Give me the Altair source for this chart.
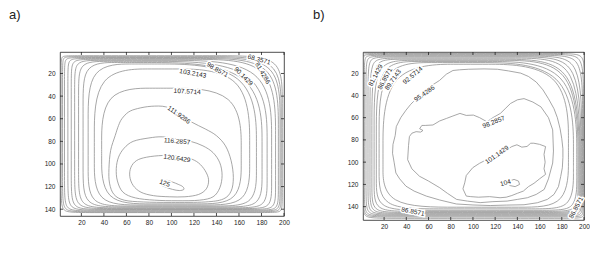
import altair as alt
import pandas as pd

FONT = "Liberation Sans"
INK = "#222222"
LINE = "#8a8a8a"

XTICKS = [20, 40, 60, 80, 100, 120, 140, 160, 180, 200]
YTICKS = [20, 40, 60, 80, 100, 120, 140]

# ---------------- panel a ----------------
A_YDOM = [1, 146]
# outer contour levels (rounded-rectangle shaped)
A_LEVELS = [64.0, 68.3571, 72.7143, 77.0714, 81.4286, 85.7857, 90.1429, 94.5, 98.8571, 103.2143, 107.5714]
A_L = [2.0, 3.3, 5.0, 8.0, 11.0, 14.0, 17.5, 21.5, 26.0, 31.5, 38.0]
A_R = [198.5, 197.5, 196.5, 195.0, 192.5, 189.0, 185.0, 180.5, 175.5, 169.5, 162.0]
A_T = [4.3, 5.1, 5.9, 6.7, 7.5, 8.4, 9.3, 10.3, 11.6, 16.0, 33.0]
A_B = [143.0, 142.3, 141.6, 140.9, 140.2, 139.5, 138.8, 138.0, 137.2, 136.3, 135.3]
A_TLX = [7, 8, 10, 12, 15, 19, 24, 31, 43, 55, 50]
A_TLY = [7, 8, 10, 12, 15, 19, 24, 34, 51, 65, 55]
A_TRX = [50, 60, 65, 68, 71, 94, 110, 115, 100, 75, 70]
A_TRY = [37, 46, 54, 63, 71, 75, 78, 80, 80, 75, 60]
A_BRX = [10, 12, 14, 15, 17, 20, 24, 29, 34, 40, 40]
A_BRY = [10, 12, 14, 15, 17, 20, 24, 29, 34, 40, 40]
A_BLX = [14, 15, 17, 19, 20, 24, 27, 31, 34, 41, 45]
A_BLY = [17, 19, 20, 22, 24, 26, 27, 31, 34, 41, 45]

# inner contours traced point by point
A_111_X = [56, 62, 70, 82, 95, 106, 118, 130, 140, 148, 153, 155, 153, 146, 130, 100, 75, 58, 49, 45, 44.5, 46, 50, 53]
A_111_Y = [60, 54, 51, 49, 49.5, 55, 63, 69, 75, 84, 97, 112, 124, 131, 133.6, 134, 133.6, 132, 127, 117, 104, 88, 75, 66]
A_116_X = [80, 92, 105, 117, 128, 137, 143, 145, 143, 137, 125, 105, 85, 68, 57, 52, 51, 53, 58, 66]
A_116_Y = [77, 76, 78, 80, 84, 90, 99, 110, 121, 129, 132, 132.5, 132, 130, 125, 115, 104, 94, 86, 80]
A_120_X = [78, 92, 105, 116, 124, 130, 133, 131, 124, 112, 98, 84, 73, 66, 63, 64, 69]
A_120_Y = [94, 92.5, 93, 95, 99, 106, 114, 122, 127, 129, 129, 128, 125, 119, 111, 103, 97]
A_125_X = [91, 96, 101, 106, 110, 111, 107, 101, 95, 91]
A_125_Y = [116, 114.5, 116, 118, 120, 122.5, 123.5, 122.5, 120.5, 118.5]

A_LAB_T = ["68.3571", "81.4286", "90.1429", "98.8571", "103.2143", "107.5714",
           "111.9286", "116.2857", "120.6429", "125"]
A_LAB_X = [178, 181, 164, 140.8, 119, 114, 106.7, 105, 105, 94]
A_LAB_Y = [7.8, 19.7, 22.6, 16.7, 20, 36, 56.6, 80, 95, 117]
A_LAB_A = [15, 60, 45, 30, 10, 3, 35, 5, 8, 20]

# ---------------- panel b ----------------
B_YDOM = [1, 152]
B_LEVELS = [64.0, 66.8571, 69.7143, 72.5714, 75.4286, 78.2857, 81.1429, 84.0, 86.8571, 89.7143, 92.5714]
B_L = [0.3, 1.2, 2.2, 3.7, 5.5, 7.3, 9.0, 11.0, 13.0, 15.5, 19.0]
B_R = [200.5, 199.5, 198.7, 197.9, 197.1, 196.3, 195.5, 194.6, 193.5, 190.5, 186.0]
B_T = [2.3, 3.1, 3.9, 4.7, 5.5, 6.5, 7.5, 8.5, 9.5, 10.5, 12.0]
B_B = [150.5, 149.3, 148.4, 147.6, 146.8, 146.0, 145.2, 144.3, 143.3, 142.0, 140.5]
B_TLX = [5, 5, 7, 9, 10, 14, 17, 31, 37, 51, 75]
B_TLY = [5, 9, 14, 20, 31, 43, 60, 60, 68, 68, 85]
B_TRX = [17, 20, 26, 34, 43, 51, 65, 68, 85, 94, 85]
B_TRY = [20, 34, 51, 75, 90, 100, 100, 100, 95, 90, 80]
B_BRX = [10, 10, 12, 14, 15, 17, 19, 20, 24, 31, 43]
B_BRY = [10, 10, 12, 14, 15, 17, 20, 24, 31, 37, 48]
B_BLX = [14, 14, 15, 17, 19, 20, 24, 31, 43, 51, 68]
B_BLY = [20, 17, 17, 17, 17, 19, 20, 22, 26, 34, 40]

B_95_X = [82, 76, 70, 63, 56.4, 50, 44, 39.7, 35, 31, 30, 28, 27.6, 29, 30.6, 34, 39.7, 47, 58, 70, 85,
          100, 115.6, 130, 146, 158, 167, 173, 177, 179, 180.5, 181, 181, 180, 178.5, 176, 173, 168,
          163, 157, 150, 143, 132, 122, 110, 96, 88]
B_95_Y = [17.6, 21, 26.5, 31, 38.4, 42, 48, 53.3, 60, 68, 76, 84, 92, 100, 109.7, 115, 121.6, 126, 130.5,
          134, 137.6, 138.5, 139, 138.6, 138.3, 136.5, 133.5, 129, 122, 113, 105, 96, 88, 79, 70, 60,
          52, 43, 35, 28, 23, 20, 18, 16.5, 16.2, 16.5, 17]
B_98_X = [42.8, 42, 41.2, 45, 51.9, 60, 70.1, 77, 85.3, 95, 106.5, 118, 130.8, 140, 149, 157, 164.2, 168,
          171.8, 172.5, 171.8, 168, 161.2, 154, 146, 140, 133.8, 129, 124.7, 118, 112.6, 106, 100.4,
          94, 88.3, 82, 76.2, 70, 64, 57, 54, 52, 55, 53, 48.8, 45]
B_98_Y = [77, 85, 97.8, 106, 112.7, 117, 123, 128, 133.5, 135, 136.4, 135.5, 135, 133.5, 132, 129, 124.5,
          115, 100.8, 90, 71, 60, 50.3, 46, 42.9, 44, 47.3, 52, 56.2, 60, 63.7, 60, 57.7, 58, 56.2, 58.5,
          60.7, 63, 66.6, 67, 67, 70, 71.5, 73, 72.6, 74]
B_101_X = [92.6, 94, 99.8, 106, 112.3, 121.7, 130.5, 135, 139.6, 144, 148.7, 152, 154.8, 160, 165.4, 164,
           165, 164, 165.4, 160, 155, 150, 145.4, 140, 135, 130, 124.4, 115, 105, 98, 94, 91]
B_101_Y = [118.6, 112, 105, 101, 97.8, 93.4, 88.9, 86, 84.4, 86.5, 85.9, 83, 83, 84, 86, 93, 100, 106,
           111, 115, 119, 122, 126, 128, 130, 131.5, 132, 131, 131.5, 131, 130.5, 124]
B_104_X = [133, 137, 141, 142, 138, 133]
B_104_Y = [117, 115.5, 117, 120, 122, 121]

B_LAB_T = ["81.1429", "86.8571", "89.7143", "92.5714", "95.4286", "98.2857", "101.1429", "104",
           "86.8571", "86.8571"]
B_LAB_X = [12.4, 20.9, 28, 45.8, 56.4, 118.7, 121.7, 129.3, 46, 193]
B_LAB_Y = [22, 25, 26, 22, 38.4, 64, 93.4, 118.6, 144.5, 140.9]
B_LAB_A = [298, 298, 305, 320, 325, 338, 325, 345, 12, 298]


def box_frame(prefix, L, R, T, B, TLX, TLY, TRX, TRY, BRX, BRY, BLX, BLY):
    rows = []
    for k in range(len(L)):
        pts = [(L[k], T[k]), (L[k] + TLX[k], T[k]), (R[k] - TRX[k], T[k]), (R[k], T[k]),
               (R[k], T[k] + TRY[k]), (R[k], B[k] - BRY[k]), (R[k], B[k]),
               (R[k] - BRX[k], B[k]), (L[k] + BLX[k], B[k]), (L[k], B[k]),
               (L[k], B[k] - BLY[k]), (L[k], T[k] + TLY[k])]
        for i, (x, y) in enumerate(pts):
            rows.append({"cid": f"{prefix}{k}", "i": i, "x": x, "y": y})
    return pd.DataFrame(rows)


def trace_frame(prefix, traces):
    rows = []
    for k, (xs, ys) in enumerate(traces):
        for i, (x, y) in enumerate(zip(xs, ys)):
            rows.append({"cid": f"{prefix}{k}", "i": i, "x": x, "y": y})
    return pd.DataFrame(rows)


def panel(box_df, trace_df, trace_interp, lab_df, ydom, w, h, title, dx):
    xs = alt.Scale(domain=[1, 200], nice=False, zero=False)
    ys = alt.Scale(domain=ydom, nice=False, zero=False, reverse=True)
    common = dict(ticks=False, domain=False, grid=False, title=None, labelFontSize=6.5,
                  labelFont=FONT, labelColor=INK, labelFlush=False)
    xa = alt.Axis(values=XTICKS, labelPadding=3, **common)
    ya = alt.Axis(values=YTICKS, labelPadding=5, **common)
    X = alt.X("x:Q", scale=xs, axis=xa)
    Y = alt.Y("y:Q", scale=ys, axis=ya)

    lines_box = alt.Chart(box_df).mark_line(
        interpolate="basis-closed", clip=True, color=LINE, strokeWidth=0.75
    ).encode(x=X, y=Y, detail="cid:N", order="i:Q")
    lines_tr = alt.Chart(trace_df).mark_line(
        interpolate=trace_interp, clip=True, color=LINE, strokeWidth=0.75
    ).encode(x=X, y=Y, detail="cid:N", order="i:Q")

    xt = pd.DataFrame({"x": XTICKS})
    yt = pd.DataFrame({"y": YTICKS})
    tick_style = dict(color=INK, strokeWidth=0.8)
    tb = alt.Chart(xt).mark_rule(**tick_style).encode(x=X, y=alt.value(h), y2=alt.value(h - 3))
    tt = alt.Chart(xt).mark_rule(**tick_style).encode(x=X, y=alt.value(0), y2=alt.value(3))
    tl = alt.Chart(yt).mark_rule(**tick_style).encode(y=Y, x=alt.value(0), x2=alt.value(3))
    tr = alt.Chart(yt).mark_rule(**tick_style).encode(y=Y, x=alt.value(w), x2=alt.value(w - 3))

    halo = alt.Chart(lab_df).mark_text(
        font=FONT, fontSize=6.5, color="white", stroke="white", strokeWidth=3
    ).encode(x=X, y=Y, text="t:N", angle=alt.Angle("a:Q", scale=None))
    text = alt.Chart(lab_df).mark_text(
        font=FONT, fontSize=6.5, color=INK
    ).encode(x=X, y=Y, text="t:N", angle=alt.Angle("a:Q", scale=None))

    return alt.layer(lines_box, lines_tr, tb, tt, tl, tr, halo, text).properties(
        width=w, height=h,
        title=alt.TitleParams(text=title, anchor="start", frame="group", dx=dx, offset=30,
                              fontSize=13, fontWeight="normal", font=FONT, color=INK),
    )


a_box = box_frame("a", A_L, A_R, A_T, A_B, A_TLX, A_TLY, A_TRX, A_TRY, A_BRX, A_BRY, A_BLX, A_BLY)
a_tr = trace_frame("at", [(A_111_X, A_111_Y), (A_116_X, A_116_Y), (A_120_X, A_120_Y), (A_125_X, A_125_Y)])
a_lab = pd.DataFrame({"t": A_LAB_T, "x": A_LAB_X, "y": A_LAB_Y, "a": A_LAB_A})

b_box = box_frame("b", B_L, B_R, B_T, B_B, B_TLX, B_TLY, B_TRX, B_TRY, B_BRX, B_BRY, B_BLX, B_BLY)
b_tr = trace_frame("bt", [(B_95_X, B_95_Y), (B_98_X, B_98_Y), (B_101_X, B_101_Y), (B_104_X, B_104_Y)])
b_lab = pd.DataFrame({"t": B_LAB_T, "x": B_LAB_X, "y": B_LAB_Y, "a": B_LAB_A})

pa = panel(a_box, a_tr, "cardinal-closed", a_lab, A_YDOM, 224, 164, "a)", -51)
pb = panel(b_box, b_tr, "linear-closed", b_lab, B_YDOM, 221, 168, "b)", -50)

chart = alt.hconcat(pa, pb, spacing=79, bounds="flush").properties(
    padding=0
).configure_view(stroke=INK, strokeWidth=0.8)

chart.save("out.html", embed_options={"renderer": "svg", "actions": False})
